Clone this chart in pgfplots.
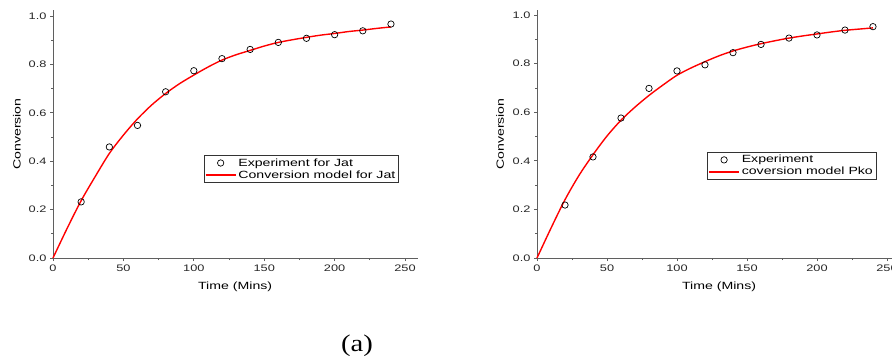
\documentclass[border=0pt]{standalone}
\usepackage{fontspec}
\setmainfont{Liberation Sans}[FakeStretch=1.35]
\newfontfamily\capfont{Liberation Serif}[FakeStretch=1.2]
\usepackage{pgfplots}
\pgfplotsset{compat=1.18}
\definecolor{axgray}{RGB}{95,95,95}

\pgfplotstableread{
t c
20 0.232
40 0.459
60 0.548
80 0.687
100 0.774
120 0.824
140 0.862
160 0.891
180 0.908
200 0.923
220 0.939
240 0.967
}\jatexp
\pgfplotstableread{
t c
0 0
10 0.122
20 0.237
30 0.337
40 0.432
50 0.508
60 0.575
70 0.632
80 0.680
90 0.721
100 0.756
110 0.789
120 0.818
130 0.840
140 0.858
150 0.876
160 0.891
170 0.902
180 0.912
190 0.921
200 0.928
210 0.936
220 0.942
230 0.949
240 0.955
}\jatmod
\pgfplotstableread{
t c
20 0.218
40 0.416
60 0.576
80 0.698
100 0.770
120 0.795
140 0.845
160 0.879
180 0.905
200 0.918
220 0.938
240 0.952
}\pkoexp
\pgfplotstableread{
t c
0 0
10 0.123
20 0.240
30 0.340
40 0.425
50 0.502
60 0.567
70 0.621
80 0.669
90 0.712
100 0.752
110 0.782
120 0.808
130 0.832
140 0.852
150 0.868
160 0.882
170 0.894
180 0.905
190 0.914
200 0.922
210 0.930
220 0.937
230 0.942
240 0.947
}\pkomod

\pgfplotsset{
 convstyle/.style={
  scale only axis,
  axis x line=bottom, axis y line=left,
  axis line style={-, axgray, line width=0.9pt},
  tick style={axgray, line width=0.7pt},
  tick align=outside,
  major tick length=3bp, minor tick length=2bp,
  xmin=0, ymin=0,
  xtick={0,50,100,150,200,250}, ytick={0,0.2,0.4,0.6,0.8,1},
  minor x tick num=1, minor y tick num=1,
  yticklabel style={/pgf/number format/.cd, fixed, fixed zerofill, precision=1},
  /pgf/number format/assume math mode=true,
  ticklabel style={font=\fontsize{9.5}{11}\selectfont, text=black!85},
  label style={font=\fontsize{10.5}{12}\selectfont},
  legend style={font=\fontsize{10.5}{12}\selectfont, draw=black!80, line width=0.6pt, inner sep=1pt, row sep=-1pt, cells={anchor=west}},
  legend cell align=left,
  clip=false,
 }
}

\begin{document}
\begin{tikzpicture}[x=1bp,y=1bp]
\useasboundingbox (0,0) rectangle (892,360);
\begin{axis}[convstyle,
  at={(53bp,102bp)}, anchor=south west,
  width=365bp, height=248bp,
  xmax=259.2, ymax=1.025,
  xlabel={Time (Mins)}, ylabel={Conversion},
  xlabel style={at={(axis description cs:0.499,-0.117)}, anchor=center},
  ylabel style={at={(axis description cs:-0.099,0.5)}, anchor=center},
  legend style={at={(axis cs:107,0.425)}, anchor=north west},
  legend image code/.code={\draw[mark repeat=2,mark phase=2,#1] plot coordinates {(0bp,0bp)(15bp,0bp)(30bp,0bp)};},
]
\addplot[only marks, mark=o, mark size=3.2bp, mark options={line width=0.7pt}, black] table[x=t,y=c] {\jatexp};
\addlegendentry{Experiment for Jat}
\addplot[red, line width=1.4pt, smooth, no marks] table[x=t,y=c] {\jatmod};
\addlegendentry{Conversion model for Jat}
\end{axis}
\begin{axis}[convstyle,
  at={(537bp,102bp)}, anchor=south west,
  width=355bp, height=248bp,
  xmax=253.6, ymax=1.0206,
  xlabel={Time (Mins)}, ylabel={Conversion},
  xlabel style={at={(axis description cs:0.513,-0.117)}, anchor=center},
  ylabel style={at={(axis description cs:-0.104,0.5)}, anchor=center},
  legend style={at={(axis cs:121.5,0.436)}, anchor=north west},
  legend image code/.code={\draw[mark repeat=2,mark phase=2,#1] plot coordinates {(0bp,0bp)(15bp,0bp)(30bp,0bp)};},
]
\addplot[only marks, mark=o, mark size=3.2bp, mark options={line width=0.7pt}, black] table[x=t,y=c] {\pkoexp};
\addlegendentry{Experiment}
\addplot[red, line width=1.4pt, smooth, no marks] table[x=t,y=c] {\pkomod};
\addlegendentry{coversion model Pko}
\end{axis}
\node[font=\capfont\fontsize{24}{26}\selectfont, anchor=center] at (357,14) {(a)};
\end{tikzpicture}
\end{document}
